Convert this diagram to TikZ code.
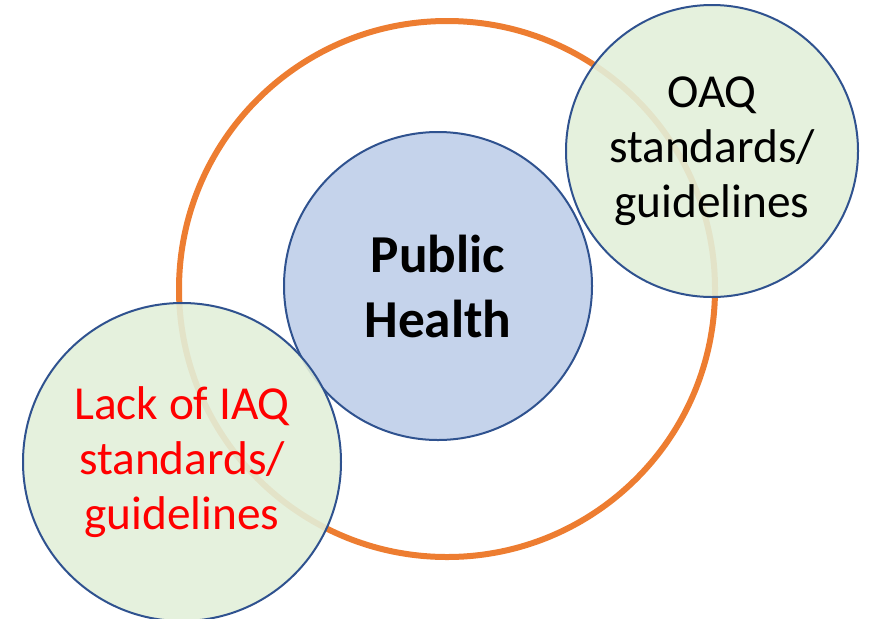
\documentclass[tikz,border=0pt]{standalone}
\usepackage{fontspec}
\setmainfont{Carlito}
\definecolor{ringorange}{RGB}{237,125,49}
\definecolor{edgeblue}{RGB}{47,82,143}
\definecolor{healthblue}{RGB}{197,211,235}
\definecolor{leafgreen}{RGB}{226,239,217}

\begin{document}
\begin{tikzpicture}[x=0.75pt, y=-0.75pt]
    % Define styles
    \tikzstyle{ring}=[circle, draw=ringorange, line width=4.5pt, inner sep=0pt]
    \tikzstyle{core}=[circle, draw=edgeblue, line width=1.5pt, fill=healthblue, inner sep=0pt, align=center, font=\fontsize{40}{48.75}\selectfont\bfseries]
    \tikzstyle{side}=[circle, draw=edgeblue, line width=1.5pt, fill=leafgreen, fill opacity=0.9, text opacity=1, inner sep=0pt, align=center, font=\fontsize{35.5}{41.25}\selectfont]

    \useasboundingbox (0,0) rectangle (877,618);

    % Outer ring
    \node[ring, minimum size=402pt] (ring) at (447,289) {};

    % Centre: public health
    \node[core, minimum size=231pt] (health) at (438,286) {Public\\Health};

    % Outdoor standards, top right
    \node[side, minimum size=219pt] (oaq) at (712,151) {OAQ\\standards/\\guidelines};

    % Indoor standards, bottom left
    \node[side, minimum size=238.5pt, text=red] (iaq) at (182,462) {Lack of IAQ\\standards/\\guidelines};
\end{tikzpicture}
\end{document}
